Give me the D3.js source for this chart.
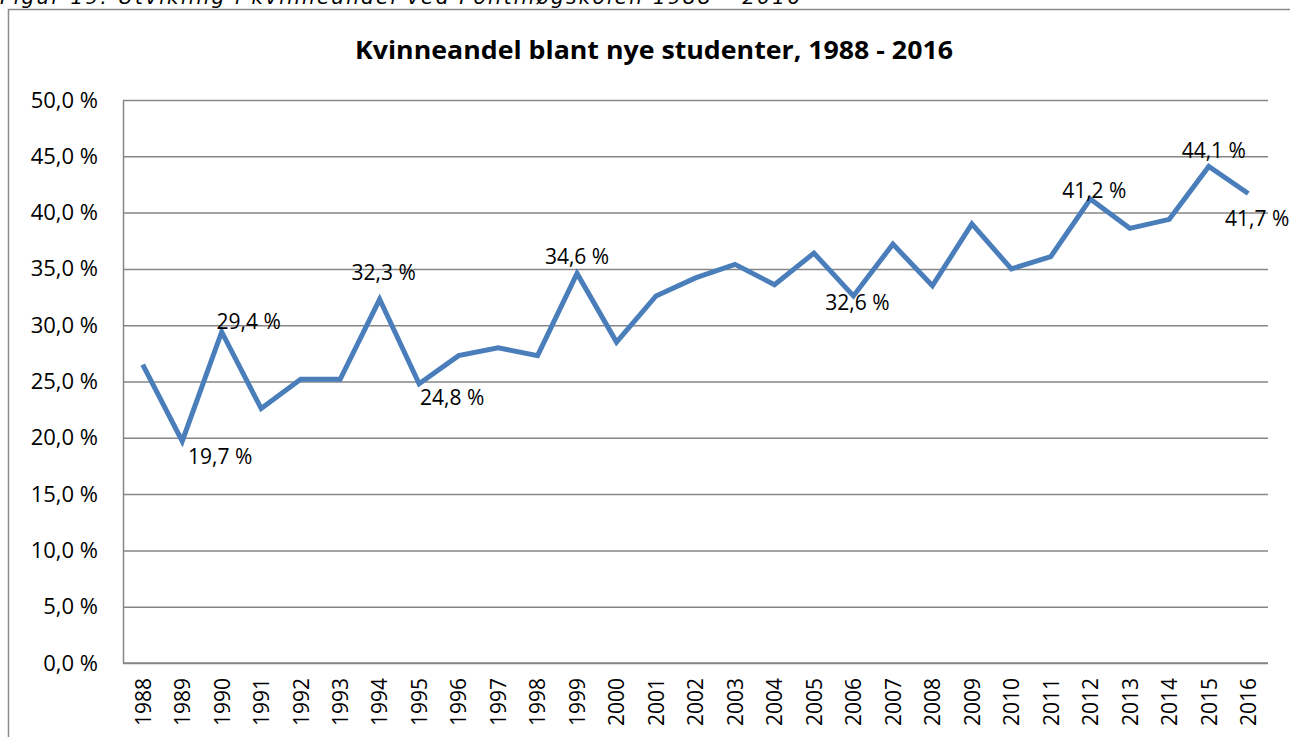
<!DOCTYPE html>
<html>
<head>
<meta charset="utf-8">
<script src="https://cdn.jsdelivr.net/npm/d3@7"></script>
<style>
  body { margin: 0; background: #fff; overflow: hidden; }
  svg { display: block; }
</style>
</head>
<body>
<svg id="chart" width="1290" height="737"></svg>
<script>
// data
const years = ["1988","1989","1990","1991","1992","1993","1994","1995","1996","1997",
  "1998","1999","2000","2001","2002","2003","2004","2005","2006","2007","2008","2009",
  "2010","2011","2012","2013","2014","2015","2016"];
const share = [26.5, 19.7, 29.4, 22.6, 25.2, 25.2, 32.3, 24.8, 27.3, 28.0,
  27.3, 34.6, 28.5, 32.6, 34.2, 35.4, 33.6, 36.4, 32.6, 37.2, 33.5, 39.0,
  35.0, 36.1, 41.2, 38.6, 39.4, 44.1, 41.7];
const yTicks = [0, 5, 10, 15, 20, 25, 30, 35, 40, 45, 50];
const labelledYears = ["1989","1990","1994","1995","1999","2006","2012","2015","2016"];

// where each data label sits relative to its point (manually placed in the original)
const labelOffset = {
  "1989": [38, 15], "1990": [27, -10], "1994": [4, -27], "1995": [33, 14],
  "1999": [0, -17], "2006": [4, 7], "2012": [4, -8], "2015": [5, -16], "2016": [9, 25]
};

const svg = d3.select("#chart");
const fmt = v => v.toFixed(1).replace(".", ",") + " %";

const plotL = 123, plotR = 1268, plotT = 100, plotB = 663;

// caption above the chart box (cut off by the page edge, as in the source)
svg.append("text")
  .attr("x", 0).attr("y", 4)
  .attr("font-family", "DejaVu Sans")
  .attr("font-style", "italic")
  .attr("font-size", 20)
  .attr("textLength", 800)
  .attr("fill", "#000")
  .text("Figur 19: Utvikling i kvinneandel ved Politihøgskolen 1988 – 2016");

// chart box
svg.append("rect")
  .attr("x", 8.5).attr("y", 9.5)
  .attr("width", 1300).attr("height", 760)
  .attr("fill", "none").attr("stroke", "#8c8c8c").attr("stroke-width", 1.5);

svg.append("text")
  .attr("x", 654).attr("y", 59)
  .attr("text-anchor", "middle")
  .attr("font-family", "Open Sans")
  .attr("font-weight", "bold")
  .attr("font-size", 25)
  .attr("textLength", 598)
  .attr("lengthAdjust", "spacingAndGlyphs")
  .text("Kvinneandel blant nye studenter, 1988 - 2016");

const x = d3.scalePoint().domain(years).range([plotL, plotR]).padding(0.5);
const y = d3.scaleLinear().domain([0, 50]).range([plotB, plotT]);

// gridlines
svg.append("g")
  .attr("transform", `translate(${plotL},0)`)
  .call(d3.axisLeft(y).tickValues(yTicks).tickSize(-(plotR - plotL)).tickFormat(""))
  .call(g => g.select(".domain").remove())
  .call(g => g.selectAll("line").attr("stroke", "#868686").attr("stroke-width", 1.5));

// y axis labels
svg.append("g")
  .attr("transform", `translate(${plotL},0)`)
  .call(d3.axisLeft(y).tickValues(yTicks).tickSize(0).tickPadding(25).tickFormat(fmt))
  .call(g => g.select(".domain").attr("stroke", "#868686").attr("stroke-width", 1.5))
  .call(g => g.selectAll("text")
    .attr("font-family", "Open Sans").attr("font-size", 22).attr("fill", "#000"));

// x axis
svg.append("g")
  .attr("transform", `translate(0,${plotB})`)
  .call(d3.axisBottom(x).tickSize(0))
  .call(g => g.select(".domain").attr("stroke", "#868686").attr("stroke-width", 1.5)
    .attr("d", `M${plotL},0H${plotR}`))
  .call(g => g.selectAll("text")
    .attr("font-family", "Open Sans").attr("font-size", 21).attr("fill", "#000")
    .attr("transform", "rotate(-90)")
    .attr("text-anchor", "end")
    .attr("x", -15).attr("y", 0).attr("dy", "0.35em"));

// line
const line = d3.line().x((d, i) => x(years[i])).y(d => y(d));
svg.append("path")
  .datum(share)
  .attr("fill", "none")
  .attr("stroke", "#4a7ebb")
  .attr("stroke-width", 5)
  .attr("stroke-linejoin", "miter")
  .attr("d", line);

// data labels
svg.append("g")
  .selectAll("text")
  .data(labelledYears)
  .join("text")
  .attr("x", d => x(d) + labelOffset[d][0])
  .attr("y", d => y(share[years.indexOf(d)]) + labelOffset[d][1])
  .attr("dy", "0.35em")
  .attr("text-anchor", "middle")
  .attr("font-family", "Open Sans")
  .attr("font-size", 21)
  .attr("fill", "#000")
  .text(d => fmt(share[years.indexOf(d)]));
</script>
</body>
</html>
